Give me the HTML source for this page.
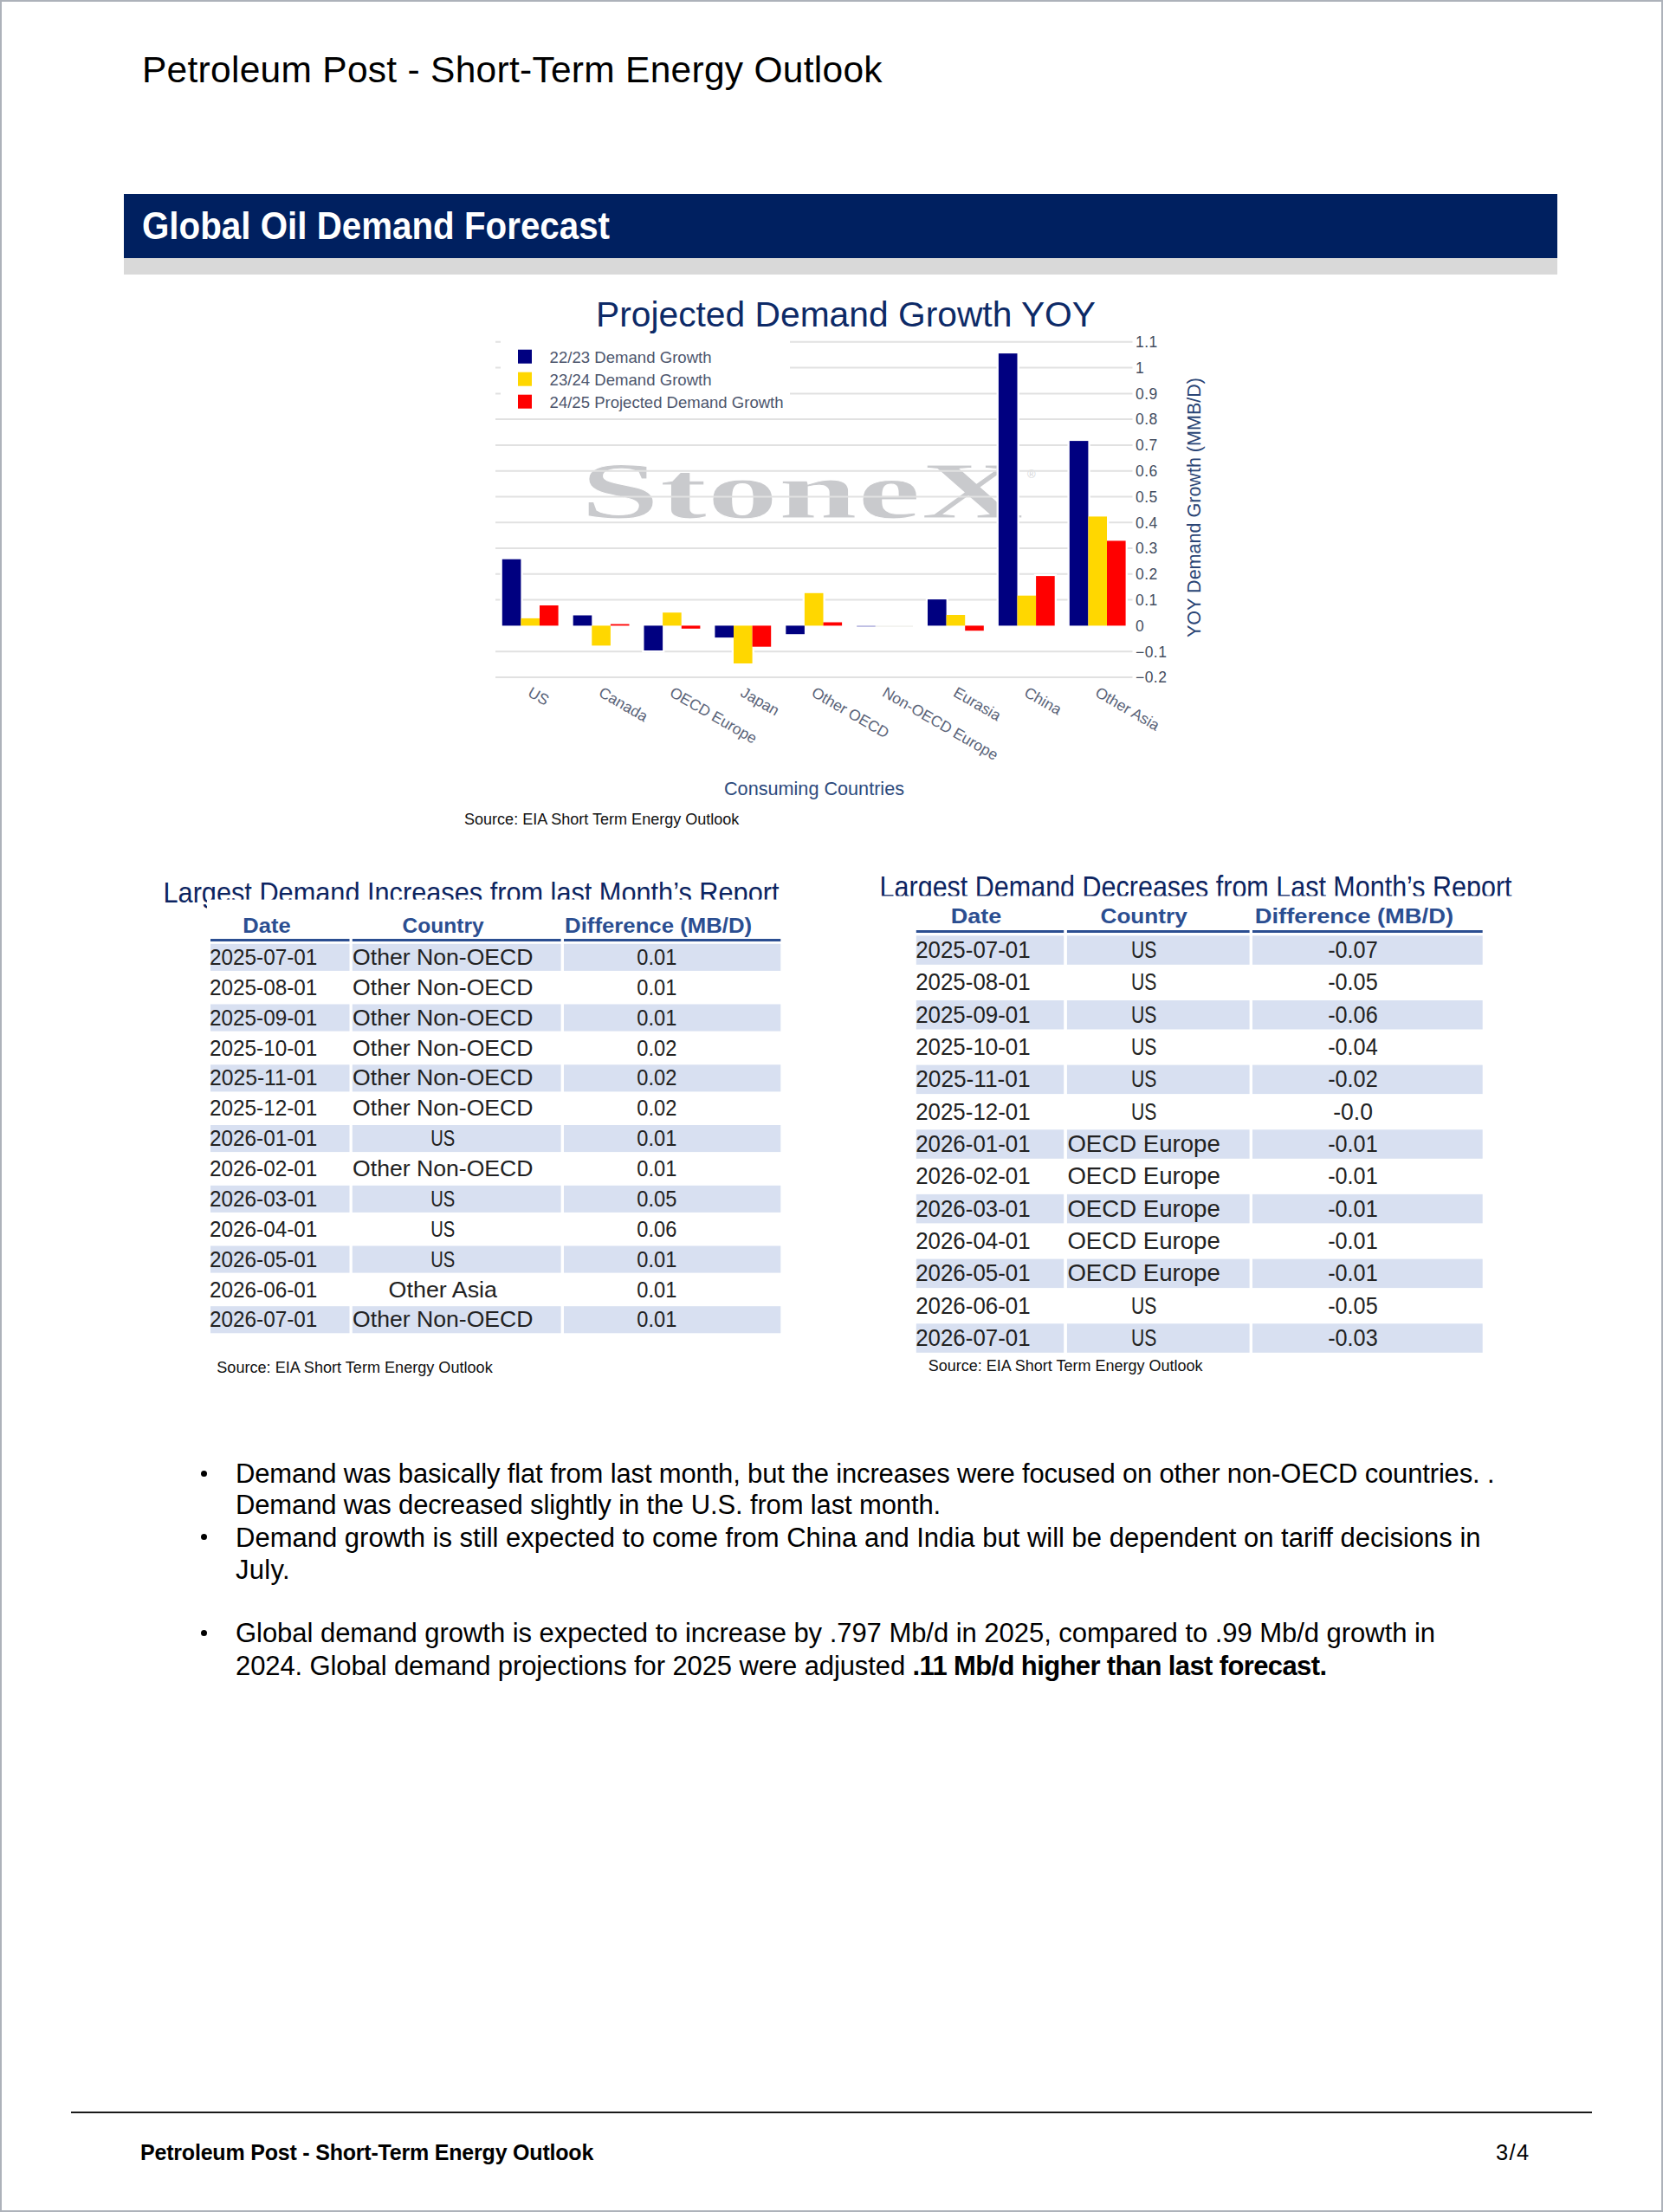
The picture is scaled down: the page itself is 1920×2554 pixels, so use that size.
<!DOCTYPE html>
<html><head><meta charset="utf-8"><title>Petroleum Post - Short-Term Energy Outlook</title>
<style>
html,body{margin:0;padding:0;background:#fff;}
body{width:1920px;height:2554px;position:relative;overflow:hidden;font-family:"Liberation Sans",sans-serif;color:#000;}
.page{position:absolute;left:0;top:0;width:1916px;height:2550px;border:2px solid #adb2ba;}
.abs{position:absolute;white-space:nowrap;}
.hdr{left:164px;top:60.2px;font-size:42.5px;line-height:42.5px;letter-spacing:0.276px;}
.banner{left:143px;top:224px;width:1655px;height:74px;background:#002060;}
.banner2{left:143px;top:298px;width:1655px;height:19px;background:#d9d9d9;}
.btitle{left:164px;top:238.5px;font-size:44px;line-height:44px;font-weight:700;color:#fff;letter-spacing:0px;transform:scaleX(0.9165);transform-origin:0 0;}
.bl{font-size:31px;line-height:31px;left:272px;}
.dot{position:absolute;width:7.2px;height:7.2px;border-radius:50%;background:#000;left:232px;}
.fline{left:82px;top:2438px;width:1756px;height:2px;background:#1a1a1a;}
.ftxt{left:162px;top:2473px;font-size:25px;line-height:25px;font-weight:700;letter-spacing:-0.2px;}
.fpg{left:1727px;top:2473px;font-size:25.5px;line-height:25.5px;letter-spacing:1.4px;}
svg{position:absolute;left:0;top:0;overflow:visible;}
</style></head><body>
<div class="page"></div>
<div class="abs hdr">Petroleum Post - Short-Term Energy Outlook</div>
<div class="abs banner"></div>
<div class="abs banner2"></div>
<div class="abs btitle">Global Oil Demand Forecast</div>
<svg width="1920" height="1000" viewBox="0 0 1920 1000" style="font-family:'Liberation Sans',sans-serif">
<text x="670" y="598" font-family="Liberation Serif" font-weight="700" font-size="93" fill="#c9cacd" textLength="512" lengthAdjust="spacingAndGlyphs" stroke="#fff" stroke-width="1" >StoneX</text>
<text x="1186" y="552" font-family="Liberation Sans" font-size="13" fill="#d4d5d8">®</text>
<line x1="572" y1="394.8" x2="1307.5" y2="394.8" stroke="#e1e1e1" stroke-width="2"/>
<line x1="572" y1="424.6" x2="1307.5" y2="424.6" stroke="#e1e1e1" stroke-width="2"/>
<line x1="572" y1="454.4" x2="1307.5" y2="454.4" stroke="#e1e1e1" stroke-width="2"/>
<line x1="572" y1="484.1" x2="1307.5" y2="484.1" stroke="#e1e1e1" stroke-width="2"/>
<line x1="572" y1="513.9" x2="1307.5" y2="513.9" stroke="#e1e1e1" stroke-width="2"/>
<line x1="572" y1="543.7" x2="1307.5" y2="543.7" stroke="#e1e1e1" stroke-width="2"/>
<line x1="572" y1="573.5" x2="1307.5" y2="573.5" stroke="#e1e1e1" stroke-width="2"/>
<line x1="572" y1="603.3" x2="1307.5" y2="603.3" stroke="#e1e1e1" stroke-width="2"/>
<line x1="572" y1="633.0" x2="1307.5" y2="633.0" stroke="#e1e1e1" stroke-width="2"/>
<line x1="572" y1="662.8" x2="1307.5" y2="662.8" stroke="#e1e1e1" stroke-width="2"/>
<line x1="572" y1="692.6" x2="1307.5" y2="692.6" stroke="#e1e1e1" stroke-width="2"/>
<line x1="572" y1="752.2" x2="1307.5" y2="752.2" stroke="#e1e1e1" stroke-width="2"/>
<line x1="572" y1="781.9" x2="1307.5" y2="781.9" stroke="#e1e1e1" stroke-width="2"/>
<rect x="578" y="388" width="334" height="90" fill="#fff"/>
<rect x="577.5" y="643.4" width="26.2" height="81.3" fill="#fff"/>
<rect x="599.1" y="711.6" width="26.2" height="13.1" fill="#fff"/>
<rect x="620.7" y="696.7" width="26.2" height="28.0" fill="#fff"/>
<rect x="579.8" y="645.7" width="21.6" height="76.7" fill="#000080"/>
<rect x="601.4" y="713.9" width="21.6" height="8.5" fill="#ffd700"/>
<rect x="623.0" y="699.0" width="21.6" height="23.4" fill="#ff0000"/>
<rect x="659.4" y="708.2" width="26.2" height="16.5" fill="#fff"/>
<rect x="681.0" y="720.1" width="26.2" height="27.6" fill="#fff"/>
<rect x="702.6" y="718.3" width="26.2" height="6.4" fill="#fff"/>
<rect x="661.7" y="710.5" width="21.6" height="11.9" fill="#000080"/>
<rect x="683.3" y="722.4" width="21.6" height="23.0" fill="#ffd700"/>
<rect x="704.9" y="720.6" width="21.6" height="1.8" fill="#ff0000"/>
<rect x="741.2" y="720.1" width="26.2" height="33.2" fill="#fff"/>
<rect x="762.9" y="705.0" width="26.2" height="19.7" fill="#fff"/>
<rect x="784.5" y="720.1" width="26.2" height="8.0" fill="#fff"/>
<rect x="743.5" y="722.4" width="21.6" height="28.6" fill="#000080"/>
<rect x="765.1" y="707.3" width="21.6" height="15.1" fill="#ffd700"/>
<rect x="786.8" y="722.4" width="21.6" height="3.4" fill="#ff0000"/>
<rect x="823.1" y="720.1" width="26.2" height="18.3" fill="#fff"/>
<rect x="844.7" y="720.1" width="26.2" height="48.2" fill="#fff"/>
<rect x="866.3" y="720.1" width="26.2" height="28.9" fill="#fff"/>
<rect x="825.4" y="722.4" width="21.6" height="13.7" fill="#000080"/>
<rect x="847.0" y="722.4" width="21.6" height="43.6" fill="#ffd700"/>
<rect x="868.6" y="722.4" width="21.6" height="24.3" fill="#ff0000"/>
<rect x="905.0" y="720.1" width="26.2" height="14.4" fill="#fff"/>
<rect x="926.6" y="682.5" width="26.2" height="42.2" fill="#fff"/>
<rect x="948.2" y="716.2" width="26.2" height="8.5" fill="#fff"/>
<rect x="907.3" y="722.4" width="21.6" height="9.8" fill="#000080"/>
<rect x="928.9" y="684.8" width="21.6" height="37.6" fill="#ffd700"/>
<rect x="950.5" y="718.5" width="21.6" height="3.9" fill="#ff0000"/>
<rect x="989.2" y="722.4" width="21.6" height="1.3" fill="#a4a4d8"/>
<rect x="1010.8" y="722.4" width="43.2" height="1.3" fill="#eeeeea"/>
<rect x="1068.8" y="689.8" width="26.2" height="34.9" fill="#fff"/>
<rect x="1090.3" y="707.7" width="26.2" height="17.0" fill="#fff"/>
<rect x="1112.0" y="720.1" width="26.2" height="10.4" fill="#fff"/>
<rect x="1071.0" y="692.1" width="21.6" height="30.3" fill="#000080"/>
<rect x="1092.6" y="710.0" width="21.6" height="12.4" fill="#ffd700"/>
<rect x="1114.2" y="722.4" width="21.6" height="5.8" fill="#ff0000"/>
<rect x="1150.6" y="405.8" width="26.2" height="318.9" fill="#fff"/>
<rect x="1172.2" y="685.4" width="26.2" height="39.3" fill="#fff"/>
<rect x="1193.8" y="662.8" width="26.2" height="61.9" fill="#fff"/>
<rect x="1152.9" y="408.1" width="21.6" height="314.3" fill="#000080"/>
<rect x="1174.5" y="687.7" width="21.6" height="34.7" fill="#ffd700"/>
<rect x="1196.1" y="665.1" width="21.6" height="57.3" fill="#ff0000"/>
<rect x="1232.5" y="506.8" width="26.2" height="217.9" fill="#fff"/>
<rect x="1254.1" y="594.1" width="26.2" height="130.6" fill="#fff"/>
<rect x="1275.7" y="622.1" width="26.2" height="102.6" fill="#fff"/>
<rect x="1234.8" y="509.1" width="21.6" height="213.3" fill="#000080"/>
<rect x="1256.4" y="596.4" width="21.6" height="126.0" fill="#ffd700"/>
<rect x="1278.0" y="624.4" width="21.6" height="98.0" fill="#ff0000"/>
<rect x="598" y="403.7" width="16" height="16" fill="#000080"/>
<text x="634.6" y="418.7" font-size="18.5" fill="#4d566d" textLength="187" lengthAdjust="spacingAndGlyphs">22/23 Demand Growth</text>
<rect x="598" y="429.7" width="16" height="16" fill="#ffd700"/>
<text x="634.6" y="444.7" font-size="18.5" fill="#4d566d" textLength="187" lengthAdjust="spacingAndGlyphs">23/24 Demand Growth</text>
<rect x="598" y="455.7" width="16" height="16" fill="#ff0000"/>
<text x="634.6" y="470.7" font-size="18.5" fill="#4d566d" textLength="270" lengthAdjust="spacingAndGlyphs">24/25 Projected Demand Growth</text>
<text x="688" y="377" font-size="41" fill="#0d2a67" textLength="577" lengthAdjust="spacingAndGlyphs">Projected Demand Growth YOY</text>
<text x="1311" y="401.1" font-size="17.5" fill="#444d60" letter-spacing="0.45">1.1</text>
<text x="1311" y="430.9" font-size="17.5" fill="#444d60" letter-spacing="0.45">1</text>
<text x="1311" y="460.7" font-size="17.5" fill="#444d60" letter-spacing="0.45">0.9</text>
<text x="1311" y="490.4" font-size="17.5" fill="#444d60" letter-spacing="0.45">0.8</text>
<text x="1311" y="520.2" font-size="17.5" fill="#444d60" letter-spacing="0.45">0.7</text>
<text x="1311" y="550.0" font-size="17.5" fill="#444d60" letter-spacing="0.45">0.6</text>
<text x="1311" y="579.8" font-size="17.5" fill="#444d60" letter-spacing="0.45">0.5</text>
<text x="1311" y="609.6" font-size="17.5" fill="#444d60" letter-spacing="0.45">0.4</text>
<text x="1311" y="639.3" font-size="17.5" fill="#444d60" letter-spacing="0.45">0.3</text>
<text x="1311" y="669.1" font-size="17.5" fill="#444d60" letter-spacing="0.45">0.2</text>
<text x="1311" y="698.9" font-size="17.5" fill="#444d60" letter-spacing="0.45">0.1</text>
<text x="1311" y="728.7" font-size="17.5" fill="#444d60" letter-spacing="0.45">0</text>
<text x="1311" y="758.5" font-size="17.5" fill="#444d60" letter-spacing="0.45">−0.1</text>
<text x="1311" y="788.2" font-size="17.5" fill="#444d60" letter-spacing="0.45">−0.2</text>
<text transform="translate(1386.3,736) rotate(-90)" x="0" y="0" font-size="22" fill="#2a4575" textLength="300" lengthAdjust="spacingAndGlyphs">YOY Demand Growth (MMB/D)</text>
<text transform="translate(608.2,803) rotate(30)" x="0" y="0" font-size="17.6" fill="#5b6479">US</text>
<text transform="translate(690.1,803) rotate(30)" x="0" y="0" font-size="17.6" fill="#5b6479">Canada</text>
<text transform="translate(772.0,803) rotate(30)" x="0" y="0" font-size="17.6" fill="#5b6479">OECD Europe</text>
<text transform="translate(853.8,803) rotate(30)" x="0" y="0" font-size="17.6" fill="#5b6479">Japan</text>
<text transform="translate(935.7,803) rotate(30)" x="0" y="0" font-size="17.6" fill="#5b6479">Other OECD</text>
<text transform="translate(1017.6,803) rotate(30)" x="0" y="0" font-size="17.6" fill="#5b6479">Non-OECD Europe</text>
<text transform="translate(1099.5,803) rotate(30)" x="0" y="0" font-size="17.6" fill="#5b6479">Eurasia</text>
<text transform="translate(1181.3,803) rotate(30)" x="0" y="0" font-size="17.6" fill="#5b6479">China</text>
<text transform="translate(1263.2,803) rotate(30)" x="0" y="0" font-size="17.6" fill="#5b6479">Other Asia</text>
<text x="836" y="918" font-size="21.6" fill="#2d4a7c" textLength="208" lengthAdjust="spacingAndGlyphs">Consuming Countries</text>
<text x="536" y="952.4" font-size="18" fill="#111" textLength="317.4" lengthAdjust="spacingAndGlyphs">Source: EIA Short Term Energy Outlook</text>
</svg>
<svg width="1920" height="1700" viewBox="0 0 1920 1700" style="font-family:'Liberation Sans',sans-serif">
<text x="188.5" y="1041.5" font-size="33.0" fill="#0c2461" textLength="711" lengthAdjust="spacingAndGlyphs">Largest Demand Increases from last Month’s Report</text>
<rect x="239" y="1038.6" width="668" height="12" fill="#fff"/>
<text x="280.3" y="1077.2" font-size="23.0" font-weight="700" fill="#2b4e91" textLength="55.3" lengthAdjust="spacingAndGlyphs">Date</text>
<text x="464.5" y="1077.2" font-size="23.0" font-weight="700" fill="#2b4e91" textLength="94.2" lengthAdjust="spacingAndGlyphs">Country</text>
<text x="652.1" y="1077.2" font-size="23.0" font-weight="700" fill="#2b4e91" textLength="216" lengthAdjust="spacingAndGlyphs">Difference (MB/D)</text>
<rect x="243" y="1084" width="160.5" height="3" fill="#2b4e91"/>
<rect x="406.8" y="1084" width="240.8" height="3" fill="#2b4e91"/>
<rect x="651" y="1084" width="250.3" height="3" fill="#2b4e91"/>
<rect x="243" y="1089.8" width="160.5" height="31.1" fill="#d8e0f1"/>
<rect x="406.8" y="1089.8" width="240.8" height="31.1" fill="#d8e0f1"/>
<rect x="651" y="1089.8" width="250.3" height="31.1" fill="#d8e0f1"/>
<text x="242.0" y="1113.9" font-size="26.2" fill="#222" textLength="124.4" lengthAdjust="spacingAndGlyphs">2025-07-01</text>
<text x="407.1" y="1113.9" font-size="26.2" fill="#222" textLength="208.4" lengthAdjust="spacingAndGlyphs">Other Non-OECD</text>
<text x="735.3" y="1113.9" font-size="26.2" fill="#222" textLength="46.0" lengthAdjust="spacingAndGlyphs">0.01</text>
<text x="242.0" y="1148.8" font-size="26.2" fill="#222" textLength="124.4" lengthAdjust="spacingAndGlyphs">2025-08-01</text>
<text x="407.1" y="1148.8" font-size="26.2" fill="#222" textLength="208.4" lengthAdjust="spacingAndGlyphs">Other Non-OECD</text>
<text x="735.3" y="1148.8" font-size="26.2" fill="#222" textLength="46.0" lengthAdjust="spacingAndGlyphs">0.01</text>
<rect x="243" y="1159.5" width="160.5" height="31.1" fill="#d8e0f1"/>
<rect x="406.8" y="1159.5" width="240.8" height="31.1" fill="#d8e0f1"/>
<rect x="651" y="1159.5" width="250.3" height="31.1" fill="#d8e0f1"/>
<text x="242.0" y="1183.6" font-size="26.2" fill="#222" textLength="124.4" lengthAdjust="spacingAndGlyphs">2025-09-01</text>
<text x="407.1" y="1183.6" font-size="26.2" fill="#222" textLength="208.4" lengthAdjust="spacingAndGlyphs">Other Non-OECD</text>
<text x="735.3" y="1183.6" font-size="26.2" fill="#222" textLength="46.0" lengthAdjust="spacingAndGlyphs">0.01</text>
<text x="242.0" y="1218.5" font-size="26.2" fill="#222" textLength="124.4" lengthAdjust="spacingAndGlyphs">2025-10-01</text>
<text x="407.1" y="1218.5" font-size="26.2" fill="#222" textLength="208.4" lengthAdjust="spacingAndGlyphs">Other Non-OECD</text>
<text x="735.3" y="1218.5" font-size="26.2" fill="#222" textLength="46.0" lengthAdjust="spacingAndGlyphs">0.02</text>
<rect x="243" y="1229.3" width="160.5" height="31.1" fill="#d8e0f1"/>
<rect x="406.8" y="1229.3" width="240.8" height="31.1" fill="#d8e0f1"/>
<rect x="651" y="1229.3" width="250.3" height="31.1" fill="#d8e0f1"/>
<text x="242.0" y="1253.4" font-size="26.2" fill="#222" textLength="124.4" lengthAdjust="spacingAndGlyphs">2025-11-01</text>
<text x="407.1" y="1253.4" font-size="26.2" fill="#222" textLength="208.4" lengthAdjust="spacingAndGlyphs">Other Non-OECD</text>
<text x="735.3" y="1253.4" font-size="26.2" fill="#222" textLength="46.0" lengthAdjust="spacingAndGlyphs">0.02</text>
<text x="242.0" y="1288.2" font-size="26.2" fill="#222" textLength="124.4" lengthAdjust="spacingAndGlyphs">2025-12-01</text>
<text x="407.1" y="1288.2" font-size="26.2" fill="#222" textLength="208.4" lengthAdjust="spacingAndGlyphs">Other Non-OECD</text>
<text x="735.3" y="1288.2" font-size="26.2" fill="#222" textLength="46.0" lengthAdjust="spacingAndGlyphs">0.02</text>
<rect x="243" y="1299.0" width="160.5" height="31.1" fill="#d8e0f1"/>
<rect x="406.8" y="1299.0" width="240.8" height="31.1" fill="#d8e0f1"/>
<rect x="651" y="1299.0" width="250.3" height="31.1" fill="#d8e0f1"/>
<text x="242.0" y="1323.1" font-size="26.2" fill="#222" textLength="124.4" lengthAdjust="spacingAndGlyphs">2026-01-01</text>
<text x="497.3" y="1323.1" font-size="26.2" fill="#222" textLength="28.0" lengthAdjust="spacingAndGlyphs">US</text>
<text x="735.3" y="1323.1" font-size="26.2" fill="#222" textLength="46.0" lengthAdjust="spacingAndGlyphs">0.01</text>
<text x="242.0" y="1358.0" font-size="26.2" fill="#222" textLength="124.4" lengthAdjust="spacingAndGlyphs">2026-02-01</text>
<text x="407.1" y="1358.0" font-size="26.2" fill="#222" textLength="208.4" lengthAdjust="spacingAndGlyphs">Other Non-OECD</text>
<text x="735.3" y="1358.0" font-size="26.2" fill="#222" textLength="46.0" lengthAdjust="spacingAndGlyphs">0.01</text>
<rect x="243" y="1368.8" width="160.5" height="31.1" fill="#d8e0f1"/>
<rect x="406.8" y="1368.8" width="240.8" height="31.1" fill="#d8e0f1"/>
<rect x="651" y="1368.8" width="250.3" height="31.1" fill="#d8e0f1"/>
<text x="242.0" y="1392.9" font-size="26.2" fill="#222" textLength="124.4" lengthAdjust="spacingAndGlyphs">2026-03-01</text>
<text x="497.3" y="1392.9" font-size="26.2" fill="#222" textLength="28.0" lengthAdjust="spacingAndGlyphs">US</text>
<text x="735.3" y="1392.9" font-size="26.2" fill="#222" textLength="46.0" lengthAdjust="spacingAndGlyphs">0.05</text>
<text x="242.0" y="1427.7" font-size="26.2" fill="#222" textLength="124.4" lengthAdjust="spacingAndGlyphs">2026-04-01</text>
<text x="497.3" y="1427.7" font-size="26.2" fill="#222" textLength="28.0" lengthAdjust="spacingAndGlyphs">US</text>
<text x="735.3" y="1427.7" font-size="26.2" fill="#222" textLength="46.0" lengthAdjust="spacingAndGlyphs">0.06</text>
<rect x="243" y="1438.5" width="160.5" height="31.1" fill="#d8e0f1"/>
<rect x="406.8" y="1438.5" width="240.8" height="31.1" fill="#d8e0f1"/>
<rect x="651" y="1438.5" width="250.3" height="31.1" fill="#d8e0f1"/>
<text x="242.0" y="1462.6" font-size="26.2" fill="#222" textLength="124.4" lengthAdjust="spacingAndGlyphs">2026-05-01</text>
<text x="497.3" y="1462.6" font-size="26.2" fill="#222" textLength="28.0" lengthAdjust="spacingAndGlyphs">US</text>
<text x="735.3" y="1462.6" font-size="26.2" fill="#222" textLength="46.0" lengthAdjust="spacingAndGlyphs">0.01</text>
<text x="242.0" y="1497.5" font-size="26.2" fill="#222" textLength="124.4" lengthAdjust="spacingAndGlyphs">2026-06-01</text>
<text x="448.6" y="1497.5" font-size="26.2" fill="#222" textLength="125.4" lengthAdjust="spacingAndGlyphs">Other Asia</text>
<text x="735.3" y="1497.5" font-size="26.2" fill="#222" textLength="46.0" lengthAdjust="spacingAndGlyphs">0.01</text>
<rect x="243" y="1508.2" width="160.5" height="31.1" fill="#d8e0f1"/>
<rect x="406.8" y="1508.2" width="240.8" height="31.1" fill="#d8e0f1"/>
<rect x="651" y="1508.2" width="250.3" height="31.1" fill="#d8e0f1"/>
<text x="242.0" y="1532.3" font-size="26.2" fill="#222" textLength="124.4" lengthAdjust="spacingAndGlyphs">2026-07-01</text>
<text x="407.1" y="1532.3" font-size="26.2" fill="#222" textLength="208.4" lengthAdjust="spacingAndGlyphs">Other Non-OECD</text>
<text x="735.3" y="1532.3" font-size="26.2" fill="#222" textLength="46.0" lengthAdjust="spacingAndGlyphs">0.01</text>
<text x="1015.6" y="1035.5" font-size="34.8" fill="#0c2461" textLength="730" lengthAdjust="spacingAndGlyphs">Largest Demand Decreases from Last Month’s Report</text>
<rect x="1005" y="1034.5" width="750" height="10" fill="#fff"/>
<text x="1097.7" y="1066.4" font-size="24.2" font-weight="700" fill="#2b4e91" textLength="58.6" lengthAdjust="spacingAndGlyphs">Date</text>
<text x="1270.5" y="1066.4" font-size="24.2" font-weight="700" fill="#2b4e91" textLength="100.2" lengthAdjust="spacingAndGlyphs">Country</text>
<text x="1448.8" y="1066.4" font-size="24.2" font-weight="700" fill="#2b4e91" textLength="229.2" lengthAdjust="spacingAndGlyphs">Difference (MB/D)</text>
<rect x="1057.8" y="1074" width="170.4" height="3" fill="#2b4e91"/>
<rect x="1231.9" y="1074" width="210.7" height="3" fill="#2b4e91"/>
<rect x="1446" y="1074" width="265.7" height="3" fill="#2b4e91"/>
<rect x="1057.8" y="1080.3" width="170.4" height="33.5" fill="#d8e0f1"/>
<rect x="1231.9" y="1080.3" width="210.7" height="33.5" fill="#d8e0f1"/>
<rect x="1446" y="1080.3" width="265.7" height="33.5" fill="#d8e0f1"/>
<text x="1057.2" y="1106.0" font-size="27.6" fill="#222" textLength="132.4" lengthAdjust="spacingAndGlyphs">2025-07-01</text>
<text x="1305.9" y="1106.0" font-size="27.6" fill="#222" textLength="29.4" lengthAdjust="spacingAndGlyphs">US</text>
<text x="1533.2" y="1106.0" font-size="27.6" fill="#222" textLength="57.5" lengthAdjust="spacingAndGlyphs">-0.07</text>
<text x="1057.2" y="1143.3" font-size="27.6" fill="#222" textLength="132.4" lengthAdjust="spacingAndGlyphs">2025-08-01</text>
<text x="1305.9" y="1143.3" font-size="27.6" fill="#222" textLength="29.4" lengthAdjust="spacingAndGlyphs">US</text>
<text x="1533.2" y="1143.3" font-size="27.6" fill="#222" textLength="57.5" lengthAdjust="spacingAndGlyphs">-0.05</text>
<rect x="1057.8" y="1155.0" width="170.4" height="33.5" fill="#d8e0f1"/>
<rect x="1231.9" y="1155.0" width="210.7" height="33.5" fill="#d8e0f1"/>
<rect x="1446" y="1155.0" width="265.7" height="33.5" fill="#d8e0f1"/>
<text x="1057.2" y="1180.7" font-size="27.6" fill="#222" textLength="132.4" lengthAdjust="spacingAndGlyphs">2025-09-01</text>
<text x="1305.9" y="1180.7" font-size="27.6" fill="#222" textLength="29.4" lengthAdjust="spacingAndGlyphs">US</text>
<text x="1533.2" y="1180.7" font-size="27.6" fill="#222" textLength="57.5" lengthAdjust="spacingAndGlyphs">-0.06</text>
<text x="1057.2" y="1218.0" font-size="27.6" fill="#222" textLength="132.4" lengthAdjust="spacingAndGlyphs">2025-10-01</text>
<text x="1305.9" y="1218.0" font-size="27.6" fill="#222" textLength="29.4" lengthAdjust="spacingAndGlyphs">US</text>
<text x="1533.2" y="1218.0" font-size="27.6" fill="#222" textLength="57.5" lengthAdjust="spacingAndGlyphs">-0.04</text>
<rect x="1057.8" y="1229.6" width="170.4" height="33.5" fill="#d8e0f1"/>
<rect x="1231.9" y="1229.6" width="210.7" height="33.5" fill="#d8e0f1"/>
<rect x="1446" y="1229.6" width="265.7" height="33.5" fill="#d8e0f1"/>
<text x="1057.2" y="1255.3" font-size="27.6" fill="#222" textLength="132.4" lengthAdjust="spacingAndGlyphs">2025-11-01</text>
<text x="1305.9" y="1255.3" font-size="27.6" fill="#222" textLength="29.4" lengthAdjust="spacingAndGlyphs">US</text>
<text x="1533.2" y="1255.3" font-size="27.6" fill="#222" textLength="57.5" lengthAdjust="spacingAndGlyphs">-0.02</text>
<text x="1057.2" y="1292.6" font-size="27.6" fill="#222" textLength="132.4" lengthAdjust="spacingAndGlyphs">2025-12-01</text>
<text x="1305.9" y="1292.6" font-size="27.6" fill="#222" textLength="29.4" lengthAdjust="spacingAndGlyphs">US</text>
<text x="1539.2" y="1292.6" font-size="27.6" fill="#222" textLength="45.7" lengthAdjust="spacingAndGlyphs">-0.0</text>
<rect x="1057.8" y="1304.3" width="170.4" height="33.5" fill="#d8e0f1"/>
<rect x="1231.9" y="1304.3" width="210.7" height="33.5" fill="#d8e0f1"/>
<rect x="1446" y="1304.3" width="265.7" height="33.5" fill="#d8e0f1"/>
<text x="1057.2" y="1330.0" font-size="27.6" fill="#222" textLength="132.4" lengthAdjust="spacingAndGlyphs">2026-01-01</text>
<text x="1232.4" y="1330.0" font-size="27.6" fill="#222" textLength="176.4" lengthAdjust="spacingAndGlyphs">OECD Europe</text>
<text x="1533.2" y="1330.0" font-size="27.6" fill="#222" textLength="57.5" lengthAdjust="spacingAndGlyphs">-0.01</text>
<text x="1057.2" y="1367.3" font-size="27.6" fill="#222" textLength="132.4" lengthAdjust="spacingAndGlyphs">2026-02-01</text>
<text x="1232.4" y="1367.3" font-size="27.6" fill="#222" textLength="176.4" lengthAdjust="spacingAndGlyphs">OECD Europe</text>
<text x="1533.2" y="1367.3" font-size="27.6" fill="#222" textLength="57.5" lengthAdjust="spacingAndGlyphs">-0.01</text>
<rect x="1057.8" y="1378.9" width="170.4" height="33.5" fill="#d8e0f1"/>
<rect x="1231.9" y="1378.9" width="210.7" height="33.5" fill="#d8e0f1"/>
<rect x="1446" y="1378.9" width="265.7" height="33.5" fill="#d8e0f1"/>
<text x="1057.2" y="1404.6" font-size="27.6" fill="#222" textLength="132.4" lengthAdjust="spacingAndGlyphs">2026-03-01</text>
<text x="1232.4" y="1404.6" font-size="27.6" fill="#222" textLength="176.4" lengthAdjust="spacingAndGlyphs">OECD Europe</text>
<text x="1533.2" y="1404.6" font-size="27.6" fill="#222" textLength="57.5" lengthAdjust="spacingAndGlyphs">-0.01</text>
<text x="1057.2" y="1442.0" font-size="27.6" fill="#222" textLength="132.4" lengthAdjust="spacingAndGlyphs">2026-04-01</text>
<text x="1232.4" y="1442.0" font-size="27.6" fill="#222" textLength="176.4" lengthAdjust="spacingAndGlyphs">OECD Europe</text>
<text x="1533.2" y="1442.0" font-size="27.6" fill="#222" textLength="57.5" lengthAdjust="spacingAndGlyphs">-0.01</text>
<rect x="1057.8" y="1453.6" width="170.4" height="33.5" fill="#d8e0f1"/>
<rect x="1231.9" y="1453.6" width="210.7" height="33.5" fill="#d8e0f1"/>
<rect x="1446" y="1453.6" width="265.7" height="33.5" fill="#d8e0f1"/>
<text x="1057.2" y="1479.3" font-size="27.6" fill="#222" textLength="132.4" lengthAdjust="spacingAndGlyphs">2026-05-01</text>
<text x="1232.4" y="1479.3" font-size="27.6" fill="#222" textLength="176.4" lengthAdjust="spacingAndGlyphs">OECD Europe</text>
<text x="1533.2" y="1479.3" font-size="27.6" fill="#222" textLength="57.5" lengthAdjust="spacingAndGlyphs">-0.01</text>
<text x="1057.2" y="1516.6" font-size="27.6" fill="#222" textLength="132.4" lengthAdjust="spacingAndGlyphs">2026-06-01</text>
<text x="1305.9" y="1516.6" font-size="27.6" fill="#222" textLength="29.4" lengthAdjust="spacingAndGlyphs">US</text>
<text x="1533.2" y="1516.6" font-size="27.6" fill="#222" textLength="57.5" lengthAdjust="spacingAndGlyphs">-0.05</text>
<rect x="1057.8" y="1528.3" width="170.4" height="33.5" fill="#d8e0f1"/>
<rect x="1231.9" y="1528.3" width="210.7" height="33.5" fill="#d8e0f1"/>
<rect x="1446" y="1528.3" width="265.7" height="33.5" fill="#d8e0f1"/>
<text x="1057.2" y="1554.0" font-size="27.6" fill="#222" textLength="132.4" lengthAdjust="spacingAndGlyphs">2026-07-01</text>
<text x="1305.9" y="1554.0" font-size="27.6" fill="#222" textLength="29.4" lengthAdjust="spacingAndGlyphs">US</text>
<text x="1533.2" y="1554.0" font-size="27.6" fill="#222" textLength="57.5" lengthAdjust="spacingAndGlyphs">-0.03</text>
<text x="250.3" y="1585" font-size="18" fill="#111" textLength="318.4" lengthAdjust="spacingAndGlyphs">Source: EIA Short Term Energy Outlook</text>
<text x="1071.8" y="1582.8" font-size="18" fill="#111" textLength="316.7" lengthAdjust="spacingAndGlyphs">Source: EIA Short Term Energy Outlook</text>
</svg>
<ul style="margin:0;padding:0;list-style:none">
<li class="abs bl" style="top:1685.9px;letter-spacing:-0.157px">Demand was basically flat from last month, but the increases were focused on other non-OECD countries. .</li>
<li class="abs bl" style="top:1722.2px;letter-spacing:-0.136px">Demand was decreased slightly in the U.S. from last month.</li>
<li class="abs bl" style="top:1759.5px;letter-spacing:0.01px">Demand growth is still expected to come from China and India but will be dependent on tariff decisions in</li>
<li class="abs bl" style="top:1796.8px;letter-spacing:0.3px">July.</li>
<li class="abs bl" style="top:1870.0px;letter-spacing:-0.04px">Global demand growth is expected to increase by .797 Mb/d in 2025, compared to .99 Mb/d growth in</li>
<li class="abs bl" style="top:1907.9px;letter-spacing:-0.11px">2024. Global demand projections for 2025 were adjusted <b style="letter-spacing:-0.62px">.11 Mb/d higher than last forecast.</b></li>
</ul>
<div class="dot" style="top:1697.8px"></div>
<div class="dot" style="top:1770.8px"></div>
<div class="dot" style="top:1881.9px"></div>
<div class="abs fline"></div>
<div class="abs ftxt">Petroleum Post - Short-Term Energy Outlook</div>
<div class="abs fpg">3/4</div>
</body></html>
